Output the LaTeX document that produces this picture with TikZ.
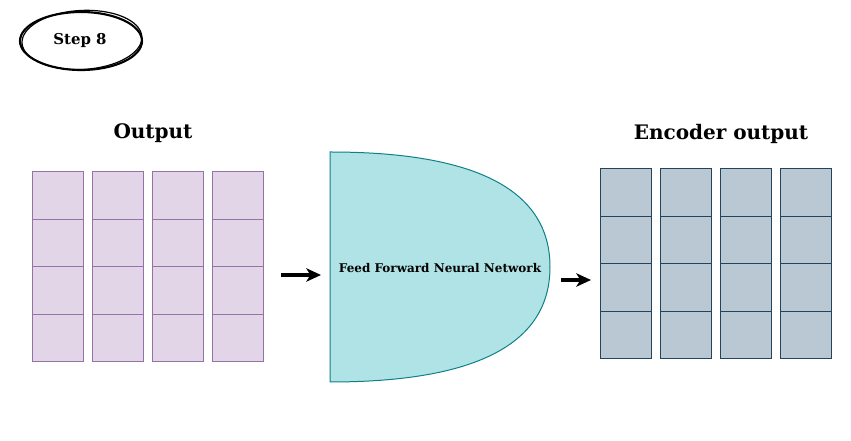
\documentclass[tikz,border=0pt]{standalone}
\usepackage{fontspec}
\setmainfont{DejaVu Serif}
\usetikzlibrary{arrows.meta}

\definecolor{outfill}{HTML}{E1D5E7}
\definecolor{outline}{HTML}{9673A6}
\definecolor{encfill}{HTML}{BAC8D3}
\definecolor{encline}{HTML}{23445D}
\definecolor{ffnfill}{HTML}{B0E3E6}
\definecolor{ffnline}{HTML}{0E8088}

\tikzset{
  arr/.style={line width=2.4pt, -{Stealth[length=11pt, width=10pt, inset=3pt]}},
  title/.style={font=\fontsize{15}{17}\selectfont\bfseries},
}

\begin{document}
\begin{tikzpicture}[x=0.75pt, y=-0.75pt]
  \useasboundingbox (0,0) rectangle (851,441);

  % Step badge
  \draw[line width=1.6pt] (81,41) ellipse [x radius=61, y radius=29];
  \draw[line width=0.9pt, rotate around={3:(81,41)}] (82,40) ellipse [x radius=60, y radius=29.5];
  \node[font=\fontsize{11.2}{13}\selectfont\bfseries] (step) at (80,41) {Step 8};

  % Titles
  \node[title] (outtitle) at (153,133) {Output};
  \node[title] (enctitle) at (721,134) {Encoder output};

  % Output columns
  \foreach \i in {0,...,3}{
    \foreach \j in {0,...,3}{
      \pgfmathsetmacro\xx{32 + \i*60}
      \pgfmathsetmacro\yy{172 + \j*47.5}
      \draw[outline, fill=outfill, line width=0.75pt]
        (\xx,\yy) rectangle (\xx+51,\yy+47.5);
    }
  }

  % Encoder output columns
  \foreach \i in {0,...,3}{
    \foreach \j in {0,...,3}{
      \pgfmathsetmacro\xx{600 + \i*60}
      \pgfmathsetmacro\yy{169 + \j*47.5}
      \draw[encline, fill=encfill, line width=0.75pt]
        (\xx,\yy) rectangle (\xx+51,\yy+47.5);
    }
  }

  % Feed forward block
  \draw[ffnline, fill=ffnfill, line width=0.75pt]
    (330,152) .. controls (476.7,152) and (550,190.3) .. (550,267)
    .. controls (550,343.7) and (476.7,382) .. (330,382) -- cycle;
  \node[font=\fontsize{9}{11}\selectfont\bfseries] (ffn) at (440,268)
    {Feed Forward Neural Network};

  % Arrows
  \coordinate (a1s) at (281,275);
  \coordinate (a1e) at (321,275);
  \coordinate (a2s) at (561,280);
  \coordinate (a2e) at (591,280);
  \draw[arr] (a1s) -- (a1e);
  \draw[arr] (a2s) -- (a2e);
\end{tikzpicture}
\end{document}
